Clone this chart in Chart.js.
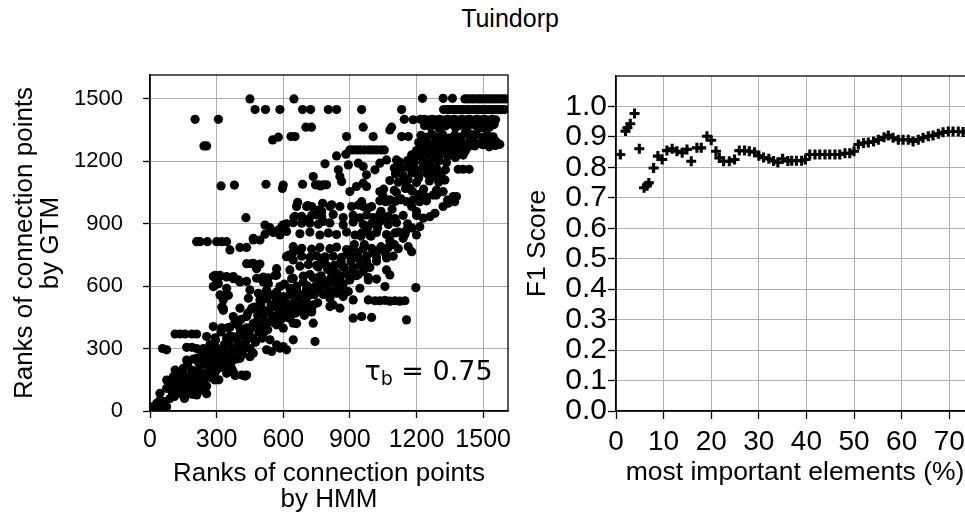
<!DOCTYPE html>
<html>
<head>
<meta charset="utf-8">
<script src="https://cdn.jsdelivr.net/npm/chart.js@4.4.1/dist/chart.umd.min.js"></script>
<style>
  html, body { margin: 0; padding: 0; background: #fff; overflow: hidden; width: 965px; height: 513px; }
  #suptitle { position: absolute; left: 0; top: 4px; width: 1020px; text-align: center;
              font: 25px "Liberation Sans", Arial, sans-serif; line-height: 28px; color: #000; }
  #rankChart { position: absolute; left: 0; top: 0; }
  #f1Chart { position: absolute; left: 520px; top: 0; }
</style>
</head>
<body>
<div id="suptitle">Tuindorp</div>
<canvas id="rankChart" width="520" height="513"></canvas>
<canvas id="f1Chart" width="470" height="513"></canvas>
<script>
const FONT = '"Liberation Sans", Arial, sans-serif';

// tick labels
const rankTicks = [0, 300, 600, 900, 1200, 1500];
const pctTicks = [0, 10, 20, 30, 40, 50, 60, 70];
const f1Ticks = [0, 0.1, 0.2, 0.3, 0.4, 0.5, 0.6, 0.7, 0.8, 0.9, 1.0];

// left panel: [rank by HMM, rank by GTM]
const topRuns = [
  [450,1500],[648,1500],[1227,1503],[1320,1503],[1362,1503],[1418,1500],[1431,1500],[1447,1500],[1460,1500],[1476,1500],
  [1489,1500],[1503,1500],[1518,1500],[1531,1500],[1546,1500],[1560,1500],[1574,1500],[1589,1500],[1603,1500],
  [473,1449],[520,1449],[585,1449],[687,1449],[723,1449],[803,1449],[840,1449],[953,1449],[1133,1449],[1322,1449],
  [1338,1449],[1351,1449],[1367,1449],[1380,1449],[1396,1449],[1409,1449],[1425,1449],[1437,1449],[1453,1449],[1466,1449],
  [1481,1449],[1495,1449],[1510,1449],[1524,1449],[1539,1449],[1552,1449],[1568,1449],[1583,1449],[1597,1449],
  [203,1402],[308,1402],[1145,1402],[1185,1400],[1218,1402],[1236,1402],[1255,1398],[1270,1402],[1290,1400],[1305,1402],
  [1322,1398],[1340,1402],[1358,1400],[1371,1402],[1390,1398],[1404,1402],[1422,1400],[1438,1402],[1455,1398],[1472,1402],
  [1488,1400],[1506,1402],[1521,1398],[1540,1402],[1556,1400]
];
const upperCloud = [
  [702,1364],[727,1364],[960,1364],[1088,1364],[1080,1351],[1236,1372],[1262,1366],[1280,1378],[1300,1360],[1330,1370],
  [1352,1380],[1376,1362],[1398,1374],[1430,1366],[1455,1378],[1478,1360],[1500,1372],[1528,1364],[1547,1376],
  [552,1303],[578,1316],[635,1319],[653,1319],[885,1319],[1005,1319],[1133,1319],[1163,1319],[1220,1325],[1245,1315],
  [1268,1330],[1290,1318],[1318,1328],[1346,1312],[1372,1326],[1400,1316],[1425,1332],[1450,1318],[1470,1330],[1498,1314],
  [1520,1326],[1545,1318],
  [1210,1290],[1232,1296],[1260,1284],[1285,1294],[1312,1288],[1340,1298],[1362,1286],[1392,1292],[1415,1284],[1440,1296],
  [1462,1290],[1490,1284],[1515,1294],[1540,1288],[1558,1296],
  [243,1274],[255,1274],[1236,1272],[1270,1278],[1300,1268],[1333,1276],[1366,1270],[1400,1278],[1430,1266],[1462,1274],
  [1500,1280],[1528,1270],[1555,1276],[1575,1282],
  [900,1255],[915,1255],[932,1255],[948,1255],[966,1255],[985,1255],[1002,1255],[1020,1255],[1040,1255],[1055,1255],
  [1200,1252],[1225,1258],[1250,1248],[1278,1256],[1310,1250],[1335,1258],[1360,1246],[1390,1254],[1420,1250],
  [840,1226],[882,1234],[1178,1231],[1198,1222],[1222,1236],[1255,1228],[1282,1220],[1310,1234],[1340,1226],[1375,1218],[1410,1230],
  [788,1188],[893,1183],[938,1191],[1035,1191],[1065,1207],[1110,1207],[1125,1196],[1160,1204],[1190,1192],[1228,1200],
  [1262,1190],[1300,1202],[1335,1194],
  [960,1175],[848,1159],[1013,1159],[1100,1168],[1128,1160],[1158,1172],[1195,1162],[1230,1170],[1262,1158],[1290,1166],
  [1330,1160],[1388,1162],[1410,1162],[1437,1162],
  [735,1127],[855,1127],[975,1135],[1105,1140],[1140,1132],[1180,1144],[1210,1134],[1248,1140],[1282,1128],[1312,1138],
  [863,1103],[960,1095],[1080,1108],[1118,1100],[1162,1112],[1200,1098],[1258,1106],[1300,1100],[1328,1110]
];
const middleCloud = [
  [320,1082],[380,1086],[522,1090],[600,1086],[596,1070],[687,1090],[745,1087],[768,1082],[795,1087],[758,1087],[780,1087],
  [930,1079],[975,1079],
  [900,1055],[1035,1055],[1052,1066],[1100,1060],[1150,1070],[1180,1058],[1232,1066],[1290,1062],[1320,1054],
  [1050,1031],[1210,1040],[1245,1028],[1275,1038],[1290,1038],[1365,1031],[1380,1031],[1340,1014],
  [665,1003],[953,1006],[1035,1010],[1060,1006],[1080,1015],[1105,1008],[1130,1015],[1155,1006],[1185,1015],[1215,1006],
  [1245,1010],[1372,1006],
  [660,983],[705,983],[728,983],[810,983],[818,991],[855,983],[908,983],[938,990],[960,983],[983,975],[998,983],[1178,983],[1320,983],
  [757,966],[710,987],[1200,959],[1343,999],[777,998],
  [432,929],[648,931],[653,935],[683,935],[728,940],[773,935],[825,945],[870,930],[915,940],[945,928],[975,942],[1005,930],
  [1035,945],[1073,935],[1103,925],[1140,940],[1230,927],[1260,934],[1283,950],
  [518,894],[593,886],[600,895],[615,900],[645,905],[683,903],[705,919],[720,903],[758,898],[810,904],[870,895],[915,908],
  [960,896],[998,902],[1035,910],[1073,897],[1110,905],[750,943],[773,959],[780,911],
  [540,881],[578,870],[615,863],[465,830],[518,850],[555,858],[585,846],[675,852],[720,860],[765,846],[803,856],[840,848],
  [885,860],[923,846],[953,855],[990,844],[1020,858],[1065,848],[1103,856],[1148,850],[1215,886],[1200,846],[1155,870],
  [210,814],[225,814],[258,814],[300,814],[323,814],[345,814],[465,822],[495,822],[1163,790]
];
const lowerCloud = [
  [360,774],[405,786],[435,786],[645,790],[683,782],[728,778],[765,786],[810,780],[840,788],[885,776],[915,784],[960,780],
  [998,782],[1035,776],[1073,786],[1118,780],[1178,766],
  [615,742],[645,726],[683,744],[720,738],[750,746],[788,736],[825,744],[863,738],[900,746],[938,734],[975,744],[1020,740],
  [1065,736],[1095,744],[623,748],[645,764],[675,772],[750,700],[773,716],[788,741],
  [435,708],[458,708],[465,710],[495,706],[480,684],[570,684],[630,678],[675,696],[713,704],[758,692],[795,700],[825,678],
  [863,700],[915,690],[960,698],[975,708],[1065,678],[1080,654],[638,636],
  [285,646],[315,646],[345,646],[375,646],[398,630],[293,652],[315,652],[345,644],[375,636],[405,620],[480,638],[510,644],
  [533,640],[570,652],[645,638],[690,648],[720,656],[758,642],[780,630],[825,646],[855,630],[900,640],[938,656],[983,642],
  [1020,634],[563,652],[510,620],[533,612],[435,623],
  [285,598],[300,614],[345,590],[293,604],[308,612],[450,582],[488,566],[525,582],[585,598],[630,590],[660,582],[705,582],
  [750,598],[803,582],[840,596],[870,586],[893,574],[945,590],[983,630],[1058,598],[1197,593],[705,588],[735,588],
  [315,558],[330,534],[338,556],[353,556],[443,542],[495,534],[525,550],[570,534],[600,550],[645,518],[675,510],[705,518],
  [735,510],[810,542],[840,566],[870,550],[915,534],[983,534],[1013,530],[1035,530],[1058,532],[1080,528],[1103,530],
  [1125,528],[1148,530],[540,556],[570,572],[510,540],[645,556],[668,548],
  [323,500],[330,484],[330,494],[405,494],[458,494],[510,486],[548,502],[585,494],[615,502],[645,486],[675,494],[705,502],
  [728,486],[810,502],[825,510],[855,494],[465,492],[495,500],[630,500],[660,516],[690,516],[720,508],[705,476],[728,476],
  [375,454],[435,454],[495,470],[555,454],[608,454],[630,446],[645,422],[735,422],[915,446],[953,454],[998,450],[1155,438],[660,420]
];
const lowerBand = [
  [285,406],[323,400],[360,402],[405,398],[450,390],[480,422],[525,404],[570,414],[600,398],
  [255,358],[293,352],[345,350],[375,356],[413,366],[465,350],[510,374],[540,342],[570,318],[600,310],[615,294],[645,342],[743,334],
  [113,370],[135,370],[158,370],[188,370],[210,370],
  [56,300],[75,294],[165,306],[188,306],[210,300],[233,278],[270,294],[300,302],[375,278],[420,294],[465,278],[525,294],
  [548,286],[585,302],
  [165,245],[210,253],[255,261],[300,253],[345,237],[375,261],[405,253],[450,261],
  [113,197],[150,205],[188,197],[225,213],[263,221],[300,197],[345,181],[375,189],[413,173],[435,173],[360,236],[368,203],
  [383,171],[428,168],
  [75,149],[105,165],[143,157],[180,165],[225,141],[263,165],[293,149],
  [45,85],[75,109],[120,101],[158,77],[188,101],[210,77],[255,83],
  [15,21],[30,37],[45,53],[68,45],[60,13],[75,21],[23,5],[8,5],[38,15],[52,28]
];
const diagonalBand = [
  [95,130],[110,150],[125,175],[130,120],[140,95],[150,180],[160,140],[170,230],[175,110],[185,160],[195,250],[200,135],
  [215,190],[225,260],[235,170],[240,300],[250,230],[265,200],[270,320],[280,260],[285,210],[295,340],[305,280],[315,230],
  [320,380],[330,300],[340,260],[350,400],[355,330],[365,290],[380,420],[390,350],[400,300],[410,440],[420,380],[430,330],
  [440,470],[455,400],[460,350],[470,500],[480,430],[490,380],[500,520],[505,460],[515,410],[525,540],[535,480],[545,430],
  [555,560],[560,500],[575,460],[585,540],[595,480],[605,610],[615,520],[625,470],[635,580],[650,520],[660,600],[665,480],
  [680,560],[690,620],[700,520],[710,600],[720,560],[735,640],[745,600],[760,580],[770,650],[785,620],[800,680],[815,640],
  [830,700],[845,660],[860,720],[875,690],[890,760],[905,720],[920,800],[935,760],[950,840],[965,800],[980,880],[995,840],
  [1010,920],[1025,880],[1040,960],[1060,930],[1075,1010],[1090,970],[1110,1050],[1130,1020],[1150,1100],[1170,1070],
  [1190,1150],[1210,1120],[1235,1190],[1260,1170],[1280,1230],[1300,1210],[1320,1260],[1345,1240],[1370,1300],[1395,1290],
  [1420,1340],[1445,1330],[1470,1370],[1500,1360],[1525,1390],[1550,1380]
];
const denseCore = [
  [90,60],[100,90],[110,70],[120,130],[135,85],[145,120],[155,60],[165,100],[175,140],[190,80],[200,110],[205,170],
  [215,130],[220,230],[230,100],[240,140],[250,180],[255,120],[265,240],[275,160],[285,280],[290,180],[300,230],[310,150],
  [320,210],[325,270],[335,320],[345,220],[355,270],[360,360],[370,240],[380,300],[390,250],[395,330],[405,370],[415,270],
  [425,310],[435,400],[445,360],[450,300],[465,420],[475,330],[485,460],[495,400],[505,350],[515,470],[520,430],[530,390],
  [545,510],[550,450],[565,420],[575,520],[580,470],[590,440],[600,530],[610,480],[620,450],[630,560],[640,500],[655,470],
  [670,540],[685,500],[695,460],[710,550],[725,500],[740,560],[755,520],[765,610],[780,560],[795,600],[810,560],[825,620],
  [840,580],[855,640],[870,610],[885,660],[900,630],[915,680],[930,650],[945,700],[960,670],[975,720],[990,690],[1005,760],
  [1020,720],[1040,790],[1060,760],[1080,820],[1100,800],[1120,860],[1140,830],[1160,900],[1180,880],[1200,940]
];

// right panel: share of most important elements (%) and F1 score
const f1Pct = [
  0.9, 2.0, 2.4, 3.0, 3.9, 4.9, 5.9, 6.5, 6.9, 7.9, 8.8, 9.7, 10.7, 11.8, 12.8, 13.9, 14.9, 15.8, 17.0, 17.9,
  19.1, 20.0, 21.0, 21.7, 22.6, 23.8, 24.9, 25.9, 27.0, 28.0, 29.1, 30.0, 31.0, 32.1, 33.1, 34.0, 35.0, 36.1, 36.9, 37.9,
  39.0, 39.8, 40.7, 41.8, 42.8, 43.9, 44.9, 46.0, 47.0, 48.1, 49.1, 50.0, 50.9, 52.0, 53.0, 54.1, 55.1, 56.3, 57.2, 58.2,
  59.3, 60.3, 61.4, 62.4, 63.5, 64.5, 65.6, 66.6, 67.7, 68.7, 69.8, 70.8, 71.9, 72.9, 74.0
];
const f1Score = [
  0.842, 0.919, 0.930, 0.943, 0.977, 0.861, 0.733, 0.740, 0.749, 0.798, 0.837, 0.826, 0.855, 0.861, 0.853, 0.848, 0.859, 0.820, 0.864, 0.864,
  0.902, 0.889, 0.853, 0.831, 0.820, 0.820, 0.826, 0.855, 0.855, 0.853, 0.850, 0.838, 0.832, 0.828, 0.821, 0.816, 0.828, 0.821, 0.822, 0.822,
  0.822, 0.826, 0.842, 0.842, 0.842, 0.842, 0.842, 0.842, 0.842, 0.846, 0.846, 0.853, 0.875, 0.880, 0.882, 0.885, 0.891, 0.899, 0.905, 0.897,
  0.891, 0.891, 0.891, 0.885, 0.891, 0.897, 0.902, 0.905, 0.910, 0.915, 0.918, 0.918, 0.918, 0.916, 0.918
];

const rankPoints = [...topRuns, ...upperCloud, ...middleCloud, ...lowerCloud, ...lowerBand, ...diagonalBand, ...denseCore];

const GRID = '#b0b0b0';

//matplotlib style box around the axes
const frame = {
  id: 'frame',
  afterDatasetsDraw(chart) {
    const {ctx, chartArea: a} = chart;
    ctx.save();
    ctx.strokeStyle = '#000';
    ctx.lineWidth = 1.3;
    ctx.strokeRect(a.left, a.top, a.right - a.left, a.bottom - a.top);
    ctx.restore();
  }
};

//kendall tau text in the lower right corner
const tauLabel = {
  id: 'tauLabel',
  afterDatasetsDraw(chart) {
    const {ctx} = chart;
    const right = chart.scales.x.getPixelForValue(1543);
    const base = chart.scales.y.getPixelForValue(149);
    ctx.save();
    ctx.fillStyle = '#000';
    ctx.textBaseline = 'alphabetic';
    ctx.textAlign = 'left';
    const big = '27px "DejaVu Sans"';
    const small = '19px "DejaVu Sans"';
    ctx.font = big;
    const wTau = ctx.measureText('τ').width;
    const wRest = ctx.measureText(' = 0.75').width;
    ctx.font = small;
    const wSub = ctx.measureText('b').width;
    let x = right - wTau - wSub - wRest;
    ctx.font = big;
    ctx.fillText('τ', x, base);
    x += wTau;
    ctx.font = small;
    ctx.fillText('b', x, base + 5);
    x += wSub;
    ctx.font = big;
    ctx.fillText(' = 0.75', x, base);
    ctx.restore();
  }
};

function axis(opts) {
  return {
    type: 'linear',
    min: opts.min,
    max: opts.max,
    afterBuildTicks: ax => { ax.ticks = opts.ticks.map(v => ({value: v})); },
    afterFit: opts.fit,
    grid: { color: GRID, lineWidth: 1, tickColor: '#000', tickLength: opts.tickLength, tickWidth: 1.3 },
    border: { color: '#000', width: 1.3 },
    ticks: {
      color: '#000', autoSkip: false, maxRotation: 0, padding: opts.pad,
      font: { family: FONT, size: opts.tickSize },
      callback: opts.format || (v => v)
    },
    title: {
      display: true, text: opts.title, color: '#000',
      font: { family: FONT, size: opts.titleSize, lineHeight: opts.lineHeight || 1.1 },
      padding: opts.titlePad
    }
  };
}

new Chart(document.getElementById('rankChart'), {
  type: 'scatter',
  data: {
    datasets: [{
      data: rankPoints.map(p => ({x: p[0], y: p[1]})),
      backgroundColor: '#000',
      borderWidth: 0,
      pointRadius: 4.6,
      pointHoverRadius: 4.6
    }]
  },
  options: {
    responsive: false,
    animation: false,
    events: [],
    layout: { padding: { left: 0, top: 75, right: 12, bottom: 0 } },
    plugins: { legend: { display: false }, tooltip: { enabled: false } },
    scales: {
      x: axis({ min: 0, max: 1612, ticks: rankTicks, fit: ax => { ax.height = 102; }, tickLength: 7, pad: 7,
                tickSize: 25, title: ['Ranks of connection points', 'by HMM'], titleSize: 26, lineHeight: 1.0,
                titlePad: { top: 0, bottom: 0 } }),
      y: axis({ min: 0, max: 1615, ticks: rankTicks, fit: ax => { ax.width = 150; }, tickLength: 7, pad: 20,
                tickSize: 22, title: ['Ranks of connection points', 'by GTM'], titleSize: 26, lineHeight: 1.0,
                titlePad: { top: 12, bottom: 0 } })
    }
  },
  plugins: [frame, tauLabel]
});

new Chart(document.getElementById('f1Chart'), {
  type: 'scatter',
  data: {
    datasets: [{
      data: f1Pct.map((p, i) => ({x: p, y: f1Score[i]})),
      pointStyle: 'cross',
      borderColor: '#000',
      borderWidth: 3.1,
      pointRadius: 5,
      pointHoverRadius: 5
    }]
  },
  options: {
    responsive: false,
    animation: false,
    events: [],
    layout: { padding: { left: 0, top: 76, right: 16, bottom: 0 } },
    plugins: { legend: { display: false }, tooltip: { enabled: false } },
    scales: {
      x: axis({ min: 0, max: 75.2, ticks: pctTicks, fit: ax => { ax.height = 102; }, tickLength: 8, pad: 6,
                tickSize: 28, title: 'most important elements (%)', titleSize: 26.5, titlePad: { top: 0, bottom: 26 } }),
      y: axis({ min: 0, max: 1.1, ticks: f1Ticks, fit: ax => { ax.width = 96; }, tickLength: 8, pad: 1,
                tickSize: 30, format: v => v.toFixed(1), title: 'F1 Score', titleSize: 26.5, titlePad: { top: 3, bottom: 0 } })
    }
  },
  plugins: [frame]
});
</script>
</body>
</html>
